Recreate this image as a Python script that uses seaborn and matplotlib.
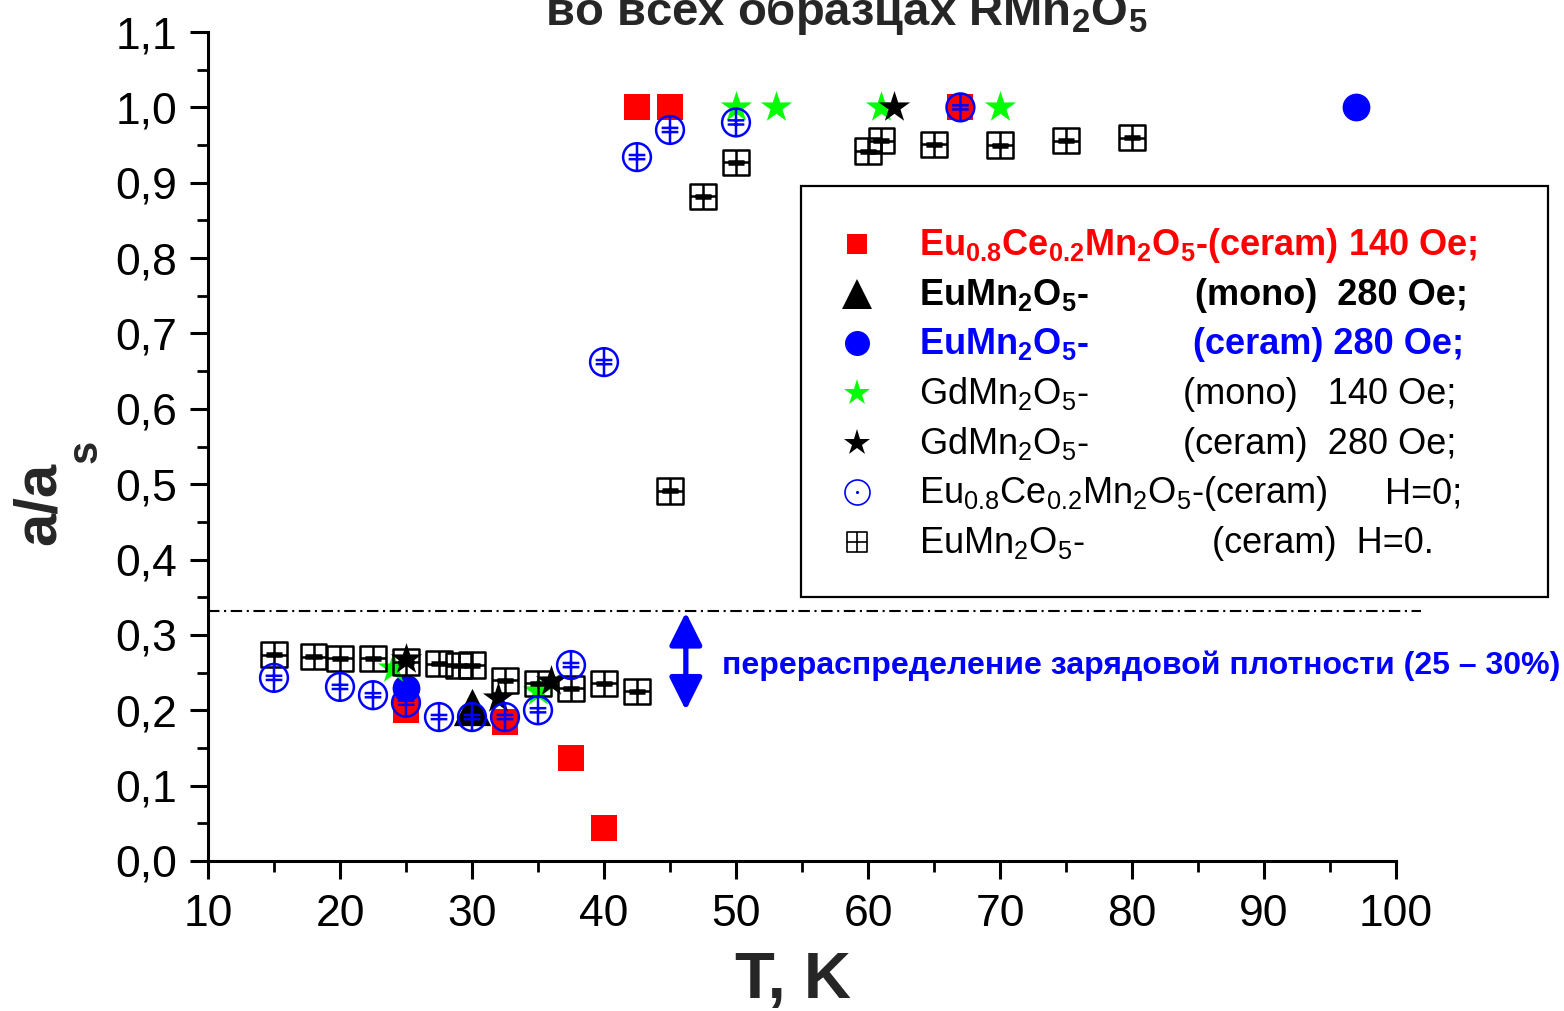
import matplotlib
matplotlib.use("Agg")
import matplotlib.pyplot as plt
from matplotlib import font_manager
from matplotlib.path import Path
from matplotlib.lines import Line2D
from matplotlib.patches import Rectangle
from matplotlib.ticker import MultipleLocator, FixedLocator, FixedFormatter
import pandas as pd
import seaborn as sns

# ---------------- data: reduced amplitude a/a_s versus temperature ----------------
# Eu0.8Ce0.2Mn2O5 ceramic, 140 Oe
eu_ce_140_T = [25, 32.5, 37.5, 40, 42.5, 45, 67]
eu_ce_140_a = [0.200, 0.185, 0.137, 0.044, 1.0, 1.0, 1.0]
# EuMn2O5 single crystal, 280 Oe
eu_mono_280_T = [30]
eu_mono_280_a = [0.205]
# EuMn2O5 ceramic, 280 Oe
eu_ceram_280_T = [25, 97]
eu_ceram_280_a = [0.229, 1.0]
# GdMn2O5 single crystal, 140 Oe
gd_mono_140_T = [24, 35, 50, 53, 61, 70]
gd_mono_140_a = [0.256, 0.225, 1.0, 1.0, 1.0, 1.0]
# GdMn2O5 ceramic, 280 Oe
gd_ceram_280_T = [25, 32, 36, 62]
gd_ceram_280_a = [0.268, 0.216, 0.239, 1.0]
# Eu0.8Ce0.2Mn2O5 ceramic, zero field
eu_ce_h0_T = [15, 20, 22.5, 25, 27.5, 30, 32.5, 35, 37.5, 40, 42.5, 45, 50, 67]
eu_ce_h0_a = [0.243, 0.231, 0.220, 0.210, 0.191, 0.191, 0.191, 0.200, 0.260,
              0.662, 0.934, 0.970, 0.980, 1.0]
# EuMn2O5 ceramic, zero field
eu_h0_T = [15, 18, 20, 22.5, 25, 27.5, 29, 30, 32.5, 35, 37.5, 40, 42.5,
           45, 47.5, 50, 60, 61, 65, 70, 75, 80]
eu_h0_a = [0.274, 0.271, 0.269, 0.269, 0.264, 0.262, 0.259, 0.260, 0.240, 0.236,
           0.229, 0.236, 0.225, 0.491, 0.882, 0.927, 0.942, 0.956, 0.951, 0.950,
           0.956, 0.960]

x_ticks = [10, 20, 30, 40, 50, 60, 70, 80, 90, 100]
x_tick_labels = ["10", "20", "30", "40", "50", "60", "70", "80", "90", "100"]
y_ticks = [0.0, 0.1, 0.2, 0.3, 0.4, 0.5, 0.6, 0.7, 0.8, 0.9, 1.0, 1.1]
y_tick_labels = ["0,0", "0,1", "0,2", "0,3", "0,4", "0,5", "0,6", "0,7",
                 "0,8", "0,9", "1,0", "1,1"]

# charge-density redistribution level and the arrow marking it
threshold = 0.332
arrow_T = 46.2
arrow_low, arrow_high = 0.200, 0.330

# ---------------- style ----------------
sns.set_style("ticks")
names = {f.name for f in font_manager.fontManager.ttflist}
NARROW = "Liberation Sans Narrow" if "Liberation Sans Narrow" in names else "Liberation Sans"
plt.rcParams["font.family"] = ["Liberation Sans", "DejaVu Sans"]
plt.rcParams["mathtext.fontset"] = "custom"
plt.rcParams["mathtext.rm"] = NARROW
plt.rcParams["mathtext.bf"] = NARROW + ":bold"

W, H = 1564, 1011
fig = plt.figure(figsize=(W / 100, H / 100), dpi=100)
fig.patch.set_facecolor("white")


def fx(px):
    return px / W


def fy(py):
    return 1 - py / H


ax = fig.add_axes([fx(208), fy(861), fx(1396) - fx(208), fy(32) - fy(861)])
ax.set_facecolor("white")


# ---------------- marker shapes ----------------
def seg(p, q):
    return Path([p, q], [Path.MOVETO, Path.LINETO])


square = Path([(-1, -1), (1, -1), (1, 1), (-1, 1), (-1, -1)],
              [Path.MOVETO, Path.LINETO, Path.LINETO, Path.LINETO, Path.CLOSEPOLY])
circle = Path.unit_circle()
square_bar = Path.make_compound_path(square, seg((0, -1), (0, 1)), seg((-1, 0), (1, 0)),
                                     seg((-0.65, 0.12), (0.65, 0.12)),
                                     seg((-0.65, -0.12), (0.65, -0.12)))
circle_bar = Path.make_compound_path(circle, seg((0, -1), (0, 1)),
                                     seg((-0.6, 0.15), (0.6, 0.15)),
                                     seg((-0.6, -0.15), (0.6, -0.15)))
square_plus = Path.make_compound_path(square, seg((0, -1), (0, 1)), seg((-1, 0), (1, 0)))
circle_dot = Path.make_compound_path(circle, Path.circle((0, 0), 0.06))


def draw(T, a, **kw):
    df = pd.DataFrame({"T": T, "a": a})
    sns.scatterplot(data=df, x="T", y="a", ax=ax, legend=False, **kw)


draw(eu_ce_140_T, eu_ce_140_a, marker="s", s=350, color="#ff0000",
     edgecolor="#ff0000", linewidth=0, zorder=3)
draw(eu_mono_280_T, eu_mono_280_a, marker="^", s=720, color="black",
     edgecolor="black", linewidth=0, zorder=4)
draw(eu_ceram_280_T, eu_ceram_280_a, marker="o", s=400, color="#0000ff",
     edgecolor="#0000ff", linewidth=0, zorder=5)
draw(gd_mono_140_T, gd_mono_140_a, marker="*", s=560, color="#00ff00",
     edgecolor="#00ff00", linewidth=0, zorder=6)
draw(eu_h0_T, eu_h0_a, marker=square_bar, s=330, facecolor="none",
     edgecolor="black", linewidth=1.8, zorder=7)
draw(gd_ceram_280_T, gd_ceram_280_a, marker="*", s=560, color="black",
     edgecolor="black", linewidth=0, zorder=8)
draw(eu_ce_h0_T, eu_ce_h0_a, marker=circle_bar, s=400, facecolor="none",
     edgecolor="#0000ff", linewidth=1.8, zorder=9)

# ---------------- axes ----------------
ax.set_xlim(10, 100)
ax.set_ylim(0, 1.1)
ax.xaxis.set_major_locator(FixedLocator(x_ticks))
ax.xaxis.set_major_formatter(FixedFormatter(x_tick_labels))
ax.yaxis.set_major_locator(FixedLocator(y_ticks))
ax.yaxis.set_major_formatter(FixedFormatter(y_tick_labels))
ax.xaxis.set_minor_locator(MultipleLocator(5))
ax.yaxis.set_minor_locator(MultipleLocator(0.05))
sns.despine(ax=ax)
for side in ("left", "bottom"):
    ax.spines[side].set_linewidth(2.2)
    ax.spines[side].set_color("black")
ax.tick_params(which="major", direction="out", length=13, width=2.2, labelsize=32,
               colors="black")
ax.tick_params(which="minor", direction="out", length=8, width=2.0, colors="black")
ax.tick_params(axis="x", which="major", pad=11)
ax.tick_params(axis="y", which="major", pad=9)

ax.set_xlabel("T, K", fontsize=47, fontweight="bold")
ax.xaxis.label.set_va("baseline")
ax.xaxis.set_label_coords((793 - 208) / 1188, -(998 - 861) / 829)
ax.set_ylabel("a/a", fontsize=43, fontweight="bold")
ax.yaxis.label.set_va("center")
ax.yaxis.set_label_coords(-(208 - 39) / 1188, (861 - 503) / 829)
fig.text(fx(86), fy(451), "s", rotation=90, fontsize=30, fontweight="bold",
         ha="center", va="center")

# threshold line and the redistribution arrow
ax.axhline(threshold, xmin=0, xmax=(1421 - 208) / 1188, color="black", lw=1.5,
           dashes=(5.5, 2.2, 1.0, 2.2), clip_on=False, zorder=2)
ax.annotate("", xy=(arrow_T, arrow_low), xytext=(arrow_T, arrow_high),
            arrowprops=dict(arrowstyle="<|-|>,head_length=1.0,head_width=0.5",
                            mutation_scale=20, color="#0000ff", lw=3.8,
                            shrinkA=0, shrinkB=0), zorder=10)
ax.text(48.94, 0.2586, "перераспределение зарядовой плотности (25 – 30%)",
        color="#0000ff", fontsize=23, fontweight="bold", family=[NARROW, "DejaVu Sans"],
        ha="left", va="center", clip_on=False)

# title (its first line lies above the canvas)
fig.text(fx(846), fy(25), r"во всех образцах RMn$_{\mathregular{2}}$O$_{\mathregular{5}}$",
         ha="center", va="baseline", fontsize=34, fontweight="bold",
         family=[NARROW, "DejaVu Sans"])

# ---------------- legend box ----------------
fig.add_artist(Rectangle((fx(801), fy(597)), fx(1548) - fx(801), fy(186) - fy(597),
                         transform=fig.transFigure, facecolor="white",
                         edgecolor="black", lw=1.6, zorder=20))

rows = [
    dict(marker="s", ms=15, fc="#ff0000", ec="#ff0000", color="#ff0000", bold=True,
         left=r"Eu$_{\mathregular{0.8}}$Ce$_{\mathregular{0.2}}$Mn$_{\mathregular{2}}$O$_{\mathregular{5}}$-(ceram) 140 Oe;",
         right=None, rx=None),
    dict(marker="^", ms=22, fc="black", ec="black", color="black", bold=True,
         left=r"EuMn$_{\mathregular{2}}$O$_{\mathregular{5}}$-", right="(mono)  280 Oe;", rx=1195),
    dict(marker="o", ms=18, fc="#0000ff", ec="#0000ff", color="#0000ff", bold=True,
         left=r"EuMn$_{\mathregular{2}}$O$_{\mathregular{5}}$-", right="(ceram) 280 Oe;", rx=1193),
    dict(marker="*", ms=20, fc="#00ff00", ec="#00ff00", color="black", bold=False,
         left=r"GdMn$_{\mathregular{2}}$O$_{\mathregular{5}}$-", right="(mono)   140 Oe;", rx=1183),
    dict(marker="*", ms=20, fc="black", ec="black", color="black", bold=False,
         left=r"GdMn$_{\mathregular{2}}$O$_{\mathregular{5}}$-", right="(ceram)  280 Oe;", rx=1183),
    dict(marker=circle_dot, ms=18, fc="none", ec="#0000ff", color="black", bold=False,
         left=r"Eu$_{\mathregular{0.8}}$Ce$_{\mathregular{0.2}}$Mn$_{\mathregular{2}}$O$_{\mathregular{5}}$-(ceram)",
         right="H=0;", rx=1385),
    dict(marker=square_plus, ms=15, fc="none", ec="black", color="black", bold=False,
         left=r"EuMn$_{\mathregular{2}}$O$_{\mathregular{5}}$-", right="(ceram)  H=0.", rx=1212),
]
baselines = [255, 305, 354, 404, 454, 503, 553]
for row, base in zip(rows, baselines):
    fig.add_artist(Line2D([fx(857)], [fy(base - 11)], transform=fig.transFigure,
                          marker=row["marker"], markersize=row["ms"],
                          markerfacecolor=row["fc"], markeredgecolor=row["ec"],
                          markeredgewidth=1.2 if row["fc"] == "none" else 0,
                          linestyle="none", zorder=21))
    weight = "bold" if row["bold"] else "normal"
    fig.text(fx(919), fy(base), row["left"], color=row["color"], fontsize=26,
             fontweight=weight, family=[NARROW, "DejaVu Sans"], ha="left",
             va="baseline", zorder=21)
    if row["right"]:
        fig.text(fx(row["rx"]), fy(base), row["right"], color=row["color"], fontsize=26,
                 fontweight=weight, family=[NARROW, "DejaVu Sans"], ha="left",
                 va="baseline", zorder=21)

fig.savefig("out.png", dpi=100, facecolor="white")
